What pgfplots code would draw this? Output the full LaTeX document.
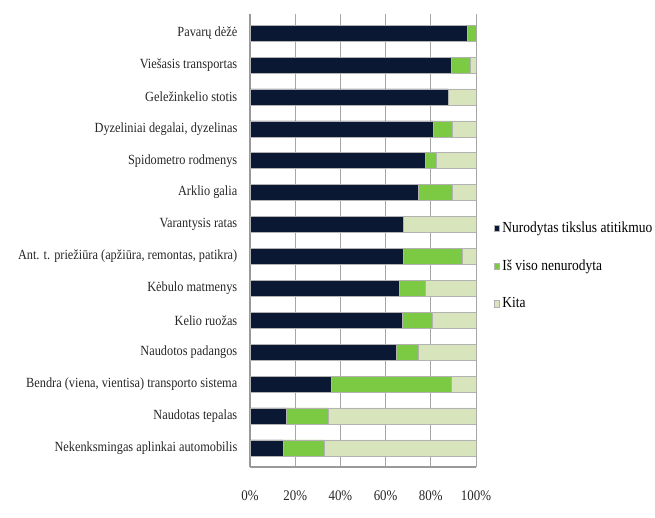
\documentclass[border=0pt]{standalone}
\usepackage{fontspec}
\setmainfont[FakeStretch=0.88]{Liberation Serif}
\usepackage{pgfplots}
\pgfplotsset{compat=1.18}
\definecolor{cNav}{RGB}{10,24,52}
\definecolor{cGrn}{RGB}{124,201,67}
\definecolor{cKit}{RGB}{216,228,188}
\begin{document}
\begin{tikzpicture}
\begin{axis}[
  scale only axis,
  width=169.5pt, height=339.75pt,
  xbar stacked,
  bar width=12pt,
  xmin=0, xmax=100,
  ymin=-0.6, ymax=13.6,
  y dir=reverse,
  ytick={0,...,13},
  yticklabels={Pavarų dėžė, Viešasis transportas, Geležinkelio stotis, {Dyzeliniai degalai, dyzelinas}, Spidometro rodmenys, Arklio galia, Varantysis ratas, {Ant. t. priežiūra (apžiūra, remontas, patikra)}, Kėbulo matmenys, Kelio ruožas, Naudotos padangos, {Bendra (viena, vientisa) transporto sistema}, Naudotas tepalas, Nekenksmingas aplinkai automobilis},
  xtick={0,20,40,60,80,100},
  xticklabel={\pgfmathprintnumber{\tick}\%},
  /pgf/number format/assume math mode=true,
  tick label style={font=\fontsize{10.5}{12}\selectfont, text=black!85},
  yticklabel style={xshift=-6pt},
  xticklabel style={yshift=-14pt, font=\fontsize{11}{12}\selectfont},
  major tick length=0pt,
  xmajorgrids, grid style={gray!70, line width=0.6pt},
  axis x line*=bottom, axis y line*=left,
  axis line style={gray!80, line width=0.8pt},
  legend style={at={(1.06,0.444)}, anchor=west, draw=none, fill=none,
    font=\fontsize{11.5}{13}\selectfont, row sep=15pt,
    legend cell align=left},
  legend image code/.code={\fill[#1] (0pt,-2.5pt) rectangle (4pt,2.5pt);},
]
\addplot[fill=cNav, draw=gray!60] coordinates {(96,0) (89.2,1) (87.8,2) (81.1,3) (77.7,4) (74.5,5) (67.8,6) (67.8,7) (66.1,8) (67.3,9) (64.6,10) (36.1,11) (16.2,12) (14.7,13)};
\addplot[fill=cGrn, draw=gray!60] coordinates {(4,0) (8.4,1) (0,2) (8.3,3) (4.6,4) (14.9,5) (0,6) (26.3,7) (11.3,8) (13.2,9) (9.7,10) (53.1,11) (18.5,12) (18.2,13)};
\addplot[fill=cKit, draw=gray!60] coordinates {(0,0) (2.4,1) (12.2,2) (10.6,3) (17.7,4) (10.6,5) (32.2,6) (5.9,7) (22.6,8) (19.5,9) (25.7,10) (10.8,11) (65.3,12) (67.1,13)};
\legend{Nurodytas tikslus atitikmuo, Iš viso nenurodyta, Kita}
\end{axis}
\pgfresetboundingbox
\path (-187.5pt,-37.5pt) rectangle (303.75pt,350.25pt);
\end{tikzpicture}
\end{document}
